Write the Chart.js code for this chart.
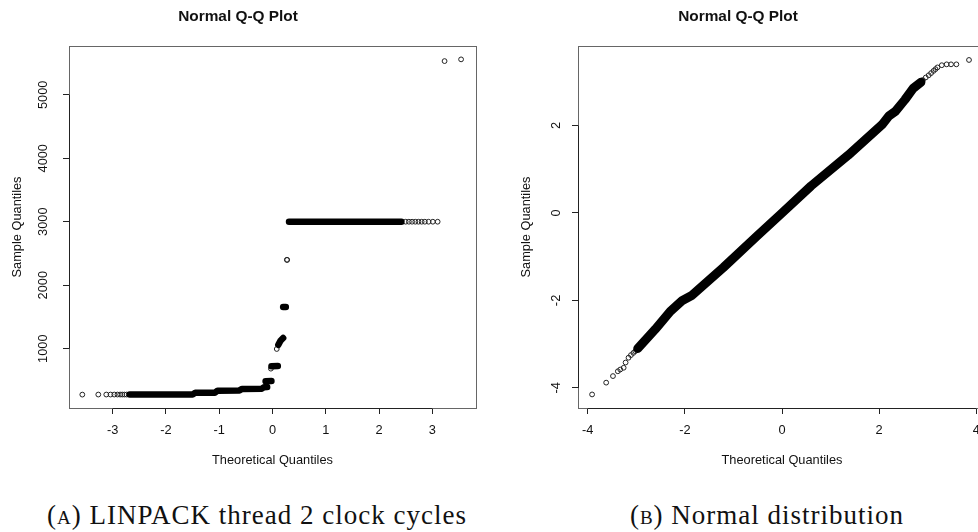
<!DOCTYPE html>
<html>
<head>
<meta charset="utf-8">
<title>Normal Q-Q Plots</title>
<script src="https://cdn.jsdelivr.net/npm/chart.js@4.4.0/dist/chart.umd.min.js"></script>
<style>
  html, body { margin: 0; padding: 0; background: #fff; width: 978px; height: 532px; overflow: hidden; position: relative; }
  canvas { position: absolute; top: 0; }
  #qqA { left: 0; }
  #qqB { left: 490px; }
  .caption {
    position: absolute; top: 500px; width: 500px; text-align: center; white-space: nowrap;
    font-family: "Liberation Serif", "Times New Roman", serif; font-size: 27px; line-height: 30px;
    letter-spacing: 1px; color: #111;
  }
  .sc { font-variant: small-caps; }
</style>
</head>
<body>
<canvas id="qqA" width="545" height="480"></canvas>
<canvas id="qqB" width="584" height="480"></canvas>
<div class="caption" style="left:7px">(<span class="sc">a</span>) LINPACK thread 2 clock cycles</div>
<div class="caption" style="left:517px">(<span class="sc">b</span>) Normal distribution</div>

<script>
// --- Panel A: LINPACK thread 2 clock cycles, [theoretical quantile, sample quantile] ---
const linpackXTicks = [-3, -2, -1, 0, 1, 2, 3];
const linpackYTicks = [1000, 2000, 3000, 4000, 5000];

// runs where the circles overlap into a solid band
const linpackLowRun = [[-2.68, 277], [-1.50, 279], [-1.45, 305], [-1.08, 307], [-1.03, 338],
                       [-0.62, 342], [-0.57, 366], [-0.20, 370], [-0.16, 392], [-0.10, 394]];
const linpack500Run = [[-0.13, 487], [-0.02, 489]];
const linpack700Run = [[-0.02, 724], [0.10, 726]];
const linpack1100Run = [[0.11, 1060], [0.15, 1125], [0.20, 1168]];
const linpack1650Run = [[0.20, 1655], [0.25, 1655]];
const linpack3000Run = [[0.31, 3000], [2.42, 3000]];

// single circles
const linpackLowTail = [[-3.57, 276], [-3.27, 277], [-3.12, 277], [-3.04, 277], [-2.97, 277],
                        [-2.91, 277], [-2.86, 277], [-2.82, 277], [-2.78, 277], [-2.74, 277]];
const linpackSingles = [[-0.03, 685], [0.08, 995], [0.27, 2400], [0.275, 2398]];
const linpackHighTail = [[2.50, 3000], [2.56, 3000], [2.62, 3000], [2.68, 3000], [2.74, 3000],
                         [2.80, 3000], [2.86, 3000], [2.93, 3000], [3.01, 3000], [3.10, 3000]];
const linpackOutliers = [[3.23, 5531], [3.54, 5558]];

// --- Panel B: Normal distribution ---
const normalXTicks = [-4, -2, 0, 2, 4];
const normalYTicks = [-4, -2, 0, 2];

const normalRun = [[-2.97, -3.10], [-2.61, -2.66], [-2.30, -2.25], [-2.05, -2.00], [-1.85, -1.88],
                   [-1.21, -1.25], [-0.52, -0.53], [0, 0], [0.60, 0.62], [1.36, 1.32],
                   [2.06, 2.02], [2.20, 2.22], [2.33, 2.32], [2.53, 2.59], [2.70, 2.85], [2.86, 2.99]];
const normalLowTail = [[-3.91, -4.15], [-3.62, -3.88], [-3.48, -3.73], [-3.38, -3.62], [-3.33, -3.58],
                       [-3.26, -3.54], [-3.22, -3.42], [-3.16, -3.31], [-3.11, -3.25], [-3.06, -3.20],
                       [-3.02, -3.16]];
const normalHighTail = [[2.90, 3.04], [2.96, 3.10], [3.02, 3.15], [3.07, 3.20], [3.12, 3.25],
                        [3.16, 3.29], [3.20, 3.33], [3.29, 3.38], [3.39, 3.40], [3.48, 3.40],
                        [3.59, 3.40], [3.85, 3.50]];

const sansFamily = '"Liberation Sans", Arial, Helvetica, sans-serif';
const inkColor = '#111';
const labelSize = 12.8;

const toXY = pts => pts.map(([x, y]) => ({ x: x, y: y }));

// band of overlapping points -> thick round stroke
function runDataset(pts, width) {
    return {
        data: toXY(pts),
        showLine: true,
        borderColor: '#000',
        borderWidth: width,
        borderCapStyle: 'round',
        borderJoinStyle: 'round',
        pointRadius: 0,
        tension: 0
    };
}

// open circles like R's pch = 1
function circleDataset(pts, color) {
    return {
        data: toXY(pts),
        showLine: false,
        pointStyle: 'circle',
        pointRadius: 2.4,
        pointBorderWidth: 1,
        pointBorderColor: color || '#222',
        pointBackgroundColor: 'rgba(0,0,0,0)'
    };
}

// box around the plot + axis line between first and last tick
const rBoxPlugin = {
    id: 'rBox',
    afterDatasetsDraw(chart) {
        const { ctx, chartArea: a, scales } = chart;
        ctx.save();
        ctx.lineWidth = 1;
        ctx.strokeStyle = '#666';
        ctx.strokeRect(Math.round(a.left) + 0.5, Math.round(a.top) + 0.5,
                       Math.round(a.right - a.left), Math.round(a.bottom - a.top));
        ctx.strokeStyle = '#222';
        const xt = scales.x.ticks, yt = scales.y.ticks;
        const yb = Math.round(a.bottom) + 0.5, xl = Math.round(a.left) + 0.5;
        ctx.beginPath();
        ctx.moveTo(scales.x.getPixelForValue(xt[0].value), yb);
        ctx.lineTo(scales.x.getPixelForValue(xt[xt.length - 1].value), yb);
        ctx.moveTo(xl, scales.y.getPixelForValue(yt[0].value));
        ctx.lineTo(xl, scales.y.getPixelForValue(yt[yt.length - 1].value));
        ctx.stroke();
        ctx.restore();
    }
};

function buildConfig(p) {
    return {
        type: 'scatter',
        data: { datasets: p.datasets },
        options: {
            responsive: false,
            animation: false,
            events: [],
            layout: { padding: { left: 0, right: p.rightPad, top: 0, bottom: 0 } },
            plugins: {
                legend: { display: false },
                tooltip: { enabled: false },
                title: {
                    display: true,
                    text: 'Normal Q-Q Plot',
                    color: inkColor,
                    font: { family: sansFamily, size: 15.4, weight: 'bold' },
                    padding: { top: 7.5, bottom: 20 }
                }
            },
            scales: {
                x: {
                    type: 'linear',
                    min: p.xMin,
                    max: p.xMax,
                    afterBuildTicks: s => { s.ticks = p.xTicks.map(v => ({ value: v })); },
                    afterFit: s => { s.height = 72; },
                    border: { display: false },
                    grid: { drawOnChartArea: false, drawTicks: true, tickLength: 6, color: '#222', lineWidth: 1 },
                    ticks: {
                        color: inkColor, padding: 8.3, maxRotation: 0, autoSkip: false,
                        font: { family: sansFamily, size: labelSize },
                        callback: v => String(v)
                    },
                    title: {
                        display: true, text: 'Theoretical Quantiles', color: inkColor,
                        font: { family: sansFamily, size: labelSize },
                        padding: { top: 0, bottom: 12.3 }
                    }
                },
                y: {
                    type: 'linear',
                    min: p.yMin,
                    max: p.yMax,
                    afterBuildTicks: s => { s.ticks = p.yTicks.map(v => ({ value: v })); },
                    afterFit: s => { s.width = p.leftWidth; },
                    border: { display: false },
                    grid: { drawOnChartArea: false, drawTicks: true, tickLength: 6, color: '#222', lineWidth: 1 },
                    ticks: {
                        color: inkColor, padding: p.yTickPad, minRotation: 90, maxRotation: 90,
                        crossAlign: 'center', autoSkip: false,
                        font: { family: sansFamily, size: labelSize },
                        callback: v => String(v)
                    },
                    title: {
                        display: true, text: 'Sample Quantiles', color: inkColor,
                        font: { family: sansFamily, size: labelSize },
                        padding: { top: p.yTitlePad, bottom: 0 }
                    }
                }
            }
        },
        plugins: [rBoxPlugin]
    };
}

new Chart(document.getElementById('qqA'), buildConfig({
    datasets: [
        runDataset(linpackLowRun, 6.5),
        runDataset(linpack500Run, 6.5),
        runDataset(linpack700Run, 6.5),
        runDataset(linpack1100Run, 6.5),
        runDataset(linpack1650Run, 6.5),
        runDataset(linpack3000Run, 6.5),
        circleDataset(linpackLowTail),
        circleDataset(linpackSingles),
        circleDataset(linpackHighTail),
        circleDataset(linpackOutliers)
    ],
    xTicks: linpackXTicks, yTicks: linpackYTicks,
    xMin: -3.82, xMax: 3.82, yMin: 65, yMax: 5769,
    leftWidth: 69, rightPad: 69, yTickPad: 5, yTitlePad: 9.8
}));

new Chart(document.getElementById('qqB'), buildConfig({
    datasets: [
        runDataset(normalRun, 9),
        circleDataset(normalLowTail),
        circleDataset(normalHighTail)
    ],
    xTicks: normalXTicks, yTicks: normalYTicks,
    xMin: -4.2, xMax: 4.2, yMin: -4.46, yMax: 3.82,
    leftWidth: 88, rightPad: 88, yTickPad: 10.3, yTitlePad: 28.3
}));
</script>
</body>
</html>
